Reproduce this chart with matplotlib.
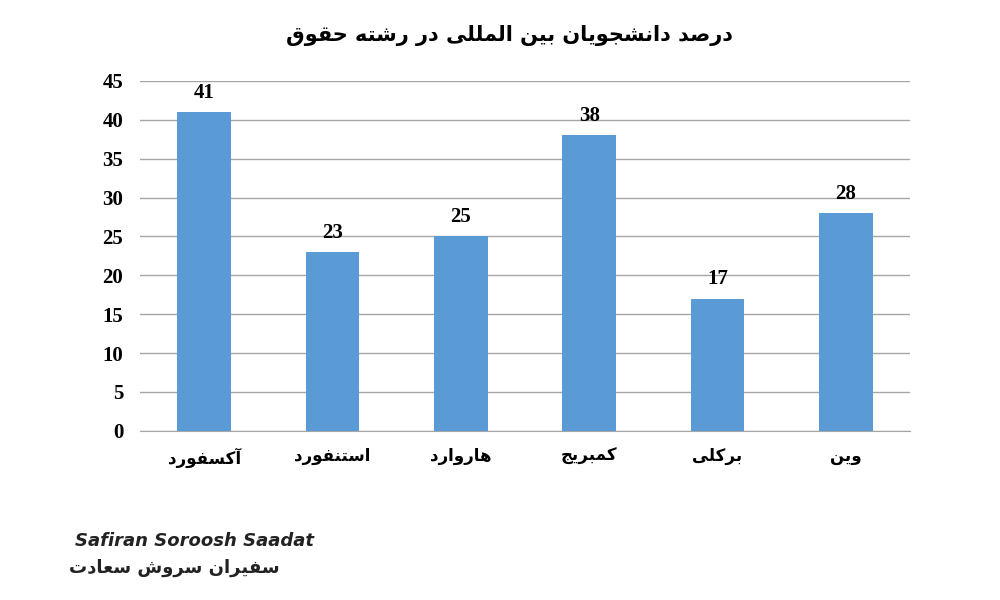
import matplotlib
matplotlib.use("Agg")
import matplotlib.pyplot as plt

categories = ["آکسفورد", "استنفورد", "هاروارد", "کمبریج", "برکلی", "وین"]
values = [41, 23, 25, 38, 17, 28]
title = "درصد دانشجویان بین المللی در رشته حقوق"
yticks = list(range(0, 50, 5))

FORMS = {
    'ا': (0xFE8D, 0xFE8E, None, None), 'آ': (0xFE81, 0xFE82, None, None),
    'ب': (0xFE8F, 0xFE90, 0xFE91, 0xFE92), 'ت': (0xFE95, 0xFE96, 0xFE97, 0xFE98),
    'ج': (0xFE9D, 0xFE9E, 0xFE9F, 0xFEA0), 'ح': (0xFEA1, 0xFEA2, 0xFEA3, 0xFEA4),
    'د': (0xFEA9, 0xFEAA, None, None), 'ر': (0xFEAD, 0xFEAE, None, None),
    'ز': (0xFEAF, 0xFEB0, None, None), 'س': (0xFEB1, 0xFEB2, 0xFEB3, 0xFEB4),
    'ش': (0xFEB5, 0xFEB6, 0xFEB7, 0xFEB8), 'ص': (0xFEB9, 0xFEBA, 0xFEBB, 0xFEBC),
    'ع': (0xFEC9, 0xFECA, 0xFECB, 0xFECC),
    'ف': (0xFED1, 0xFED2, 0xFED3, 0xFED4), 'ق': (0xFED5, 0xFED6, 0xFED7, 0xFED8),
    'ل': (0xFEDD, 0xFEDE, 0xFEDF, 0xFEE0), 'م': (0xFEE1, 0xFEE2, 0xFEE3, 0xFEE4),
    'ن': (0xFEE5, 0xFEE6, 0xFEE7, 0xFEE8), 'ه': (0xFEE9, 0xFEEA, 0xFEEB, 0xFEEC),
    'و': (0xFEED, 0xFEEE, None, None), 'ی': (0xFBFC, 0xFBFD, 0xFBFE, 0xFBFF),
    'ک': (0xFB8E, 0xFB8F, 0xFB90, 0xFB91),
}

def shape(s):
    out = []
    n = len(s)
    for i, c in enumerate(s):
        if c not in FORMS:
            out.append(c); continue
        f = FORMS[c]
        prev = s[i-1] if i > 0 else None
        nxt = s[i+1] if i < n-1 else None
        jp = prev in FORMS and FORMS[prev][2] is not None
        jn = nxt in FORMS and f[2] is not None
        if jp and jn: cp = f[3]
        elif jp: cp = f[1]
        elif jn: cp = f[2]
        else: cp = f[0]
        out.append(chr(cp))
    return ''.join(out)[::-1]

fig = plt.figure(figsize=(10, 6), dpi=100)
ax = fig.add_axes([0.14, 0.282, 0.77, 0.583])
x = list(range(len(categories)))
ax.bar(x, values, width=0.42, color="#5B9BD5", zorder=3)
for xi, v in zip(x, values):
    ax.text(xi, v + 1.2, str(v), ha="center", va="bottom", fontsize=15,
            fontweight="bold", family="Liberation Serif")
ax.set_xlim(-0.5, len(categories) - 0.5)
ax.set_ylim(0, 45)
ax.set_yticks(yticks)
ax.set_yticklabels([str(t) for t in yticks], fontsize=15, fontweight="bold",
                   family="Liberation Serif")
ax.set_xticks(x)
ax.set_xticklabels([shape(c) for c in categories], fontsize=12, fontweight="bold",
                   family="DejaVu Sans")
ax.yaxis.grid(True, color="#A6A6A6", linewidth=1, zorder=0)
for s in ["top", "right", "left"]:
    ax.spines[s].set_visible(False)
ax.spines["bottom"].set_color("#A6A6A6")
ax.tick_params(length=0, pad=12)
fig.text(0.51, 0.94, shape(title), ha="center", va="center", fontsize=15,
         fontweight="bold", family="DejaVu Sans")
fig.text(0.075, 0.09, "Safiran Soroosh Saadat", fontsize=13, fontweight="bold",
         style="italic", color="#222222")
fig.text(0.28, 0.045, shape("سفیران سروش سعادت"), fontsize=13, ha="right",
         fontweight="bold", color="#222222", family="DejaVu Sans")
fig.savefig("out.png", dpi=100)
